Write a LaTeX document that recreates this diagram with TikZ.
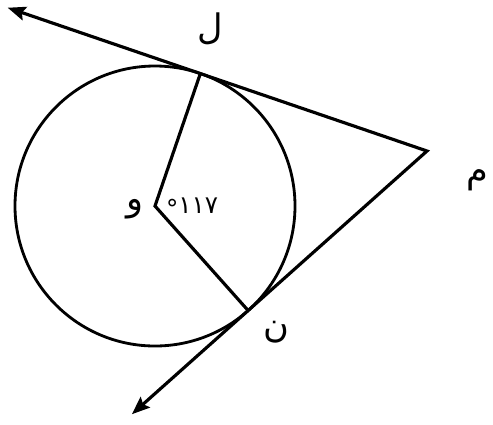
\documentclass[tikz,border=0pt]{standalone}
\usepackage{fontspec}
\newfontfamily\arabicfont[Script=Arabic]{DejaVu Sans}
\TeXXeTstate=1
\usetikzlibrary{arrows.meta,calc}
\begin{document}
\begin{tikzpicture}[x=0.02cm,y=-0.02cm,line width=1.8pt,
  tip/.tip={Stealth[length=0.36cm,width=0.28cm,inset=0.06cm]},
  lbl/.style={inner sep=0pt,font=\arabicfont\fontsize{20}{24}\selectfont},
  deg/.style={inner sep=0pt,font=\arabicfont\fontsize{14}{16}\selectfont}]
\useasboundingbox (0,0) rectangle (493,424);
\coordinate (O) at (155,206);
\coordinate (M) at (427,151);
\coordinate (L) at ($(O)+(-71.1:140)$);
\coordinate (N) at ($(O)+(48.3:140)$);
\coordinate (A1) at ($(M)!1.85!(L)$);
\coordinate (A2) at ($(M)!1.65!(N)$);
\draw[line width=1.6pt] (O) circle[radius=140];
\draw[tip-tip,line join=miter] (A1) -- (M) -- (A2);
\draw[line join=miter] (L) -- (O) -- (N);
\node[lbl] (lL) at (210,29) {ل};
\node[lbl] (lM) at (477,180) {م};
\node[lbl] (lN) at (276,332) {ن};
\node[lbl] (lO) at (135,209) {و};
\node[deg] (ang) at (192,208) {\raisebox{-0.3ex}{°}\kern0pt ١١٧};
\end{tikzpicture}
\end{document}
